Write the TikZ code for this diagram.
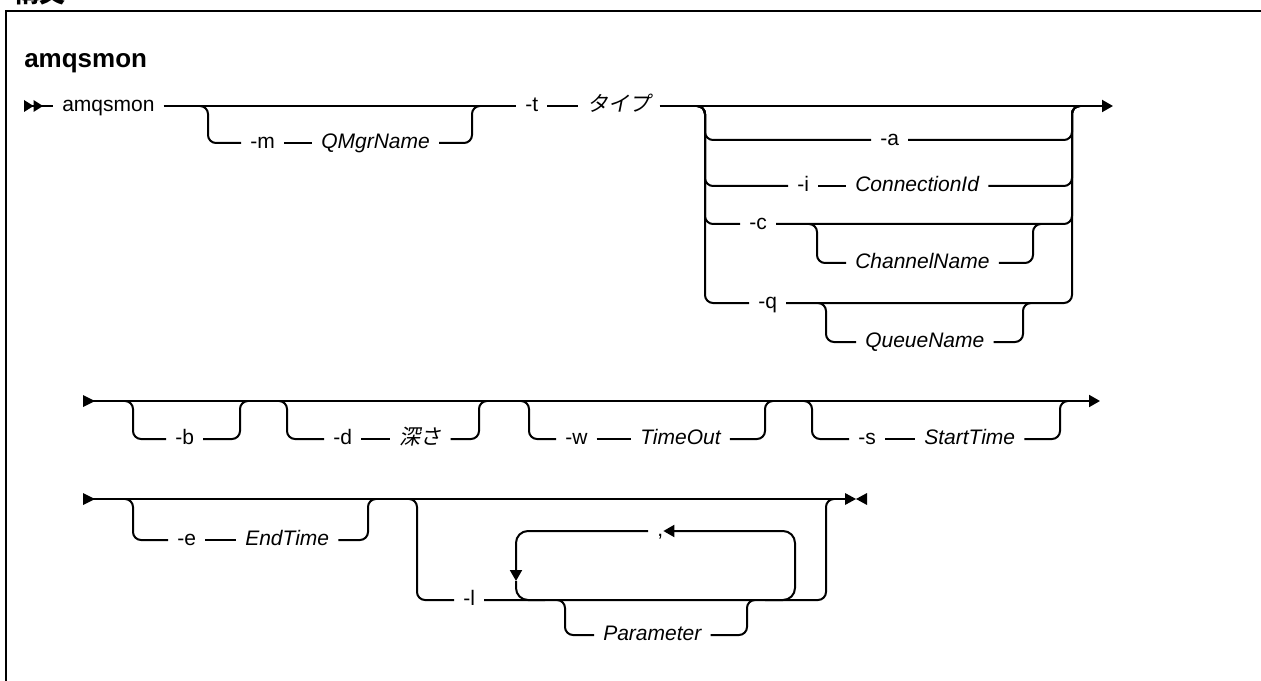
\documentclass[tikz,border=0pt]{standalone}
\usepackage{fontspec}
\setmainfont{Liberation Sans}
\newfontfamily\jp[FakeSlant=0.2]{Noto Sans CJK JP}
\newfontfamily\jpup{Noto Sans CJK JP}
\usetikzlibrary{arrows.meta}
\begin{document}
\begin{tikzpicture}[x=0.75pt,y=-0.75pt,
  ln/.style={line width=1.5pt},
  br/.style={line width=1.5pt, rounded corners=6pt},
  lp/.style={line width=1.5pt, rounded corners=9pt},
  lbl/.style={inner xsep=6.75pt, inner ysep=0pt, text height=8.2pt, text depth=0pt, anchor=west, font=\fontsize{15.75}{18}\selectfont},
  var/.style={lbl, font=\fontsize{15.75}{18}\selectfont\itshape},
  jvar/.style={lbl, font=\fontsize{15.75}{18}\selectfont\jp},
  tip/.style={-{Triangle[length=8.25pt,width=9pt]}},
]
\useasboundingbox (0,0) rectangle (1261,681);
\clip (0,0) rectangle (1261,681);

% frame and headings
\draw[line width=1.9pt] (6,720) -- (6,11) -- (1290,11);
\node[anchor=base west, inner sep=0pt, font=\fontsize{19.5}{22}\selectfont\jpup\bfseries] (hd) at (13,3) {構文};
\node[anchor=base west, inner sep=0pt, font=\fontsize{19.5}{22}\selectfont\bfseries] (title) at (24,68) {amqsmon};

% ---------------- row 1 ----------------
\coordinate (r1s) at (24,106);
\fill (24,100) -- (33.5,106) -- (24,112) -- cycle;
\fill (33.5,100) -- (43,106) -- (33.5,112) -- cycle;
\node[lbl] (amq) at (53,106) {amqsmon};
\draw[ln] (r1s) -- (amq.west);

% -m QMgrName (optional)
\coordinate (mS) at (200,106); \coordinate (mB) at (208,143);
\node[lbl] (m) at (241,143) {-m};
\node[var] (qmn) at (312,143) {QMgrName};
\coordinate (mR) at (472,106); \coordinate (mE) at (480,106);
\draw[br] (mS) -| (mB) -- (m.west);
\draw[ln] (m.east) -- (qmn.west);
\draw[br] (qmn.east) -| (mR) -- (mE);

% -t type
\node[lbl] (t) at (516,106) {-t};
\node[jvar] (typ) at (578,106) {タイプ};
\coordinate (r1e) at (1113,106);
\draw[ln] (amq.east) -- (t.west);
\draw[ln] (t.east) -- (typ.west);
\draw[ln,tip] (typ.east) -- (r1e);

% choice block
\coordinate (cS) at (697,106);
\coordinate (cR) at (1072,106); \coordinate (cE) at (1080,106);
% -a
\coordinate (aB) at (705,140);
\node[lbl] (a) at (871,140) {-a};
\draw[br] (cS) -| (aB) -- (a.west);
\draw[br] (a.east) -| (cR) -- (cE);
% -i ConnectionId
\coordinate (iB) at (705,186);
\node[lbl] (i) at (788,186) {-i};
\node[var] (cid) at (846,186) {ConnectionId};
\draw[br] (cS) -| (iB) -- (i.west);
\draw[ln] (i.east) -- (cid.west);
\draw[br] (cid.east) -| (cR) -- (cE);
% -c [ChannelName]
\coordinate (cB) at (705,224);
\node[lbl] (c) at (740,224) {-c};
\draw[br] (cS) -| (cB) -- (c.west);
\draw[br] (c.east) -| (cR) -- (cE);
\coordinate (chS) at (809,224); \coordinate (chB) at (817,263);
\node[var] (chn) at (846,263) {ChannelName};
\coordinate (chR) at (1033,224); \coordinate (chE) at (1041,224);
\draw[br] (chS) -| (chB) -- (chn.west);
\draw[br] (chn.east) -| (chR) -- (chE);
% -q [QueueName]
\coordinate (qB) at (705,303);
\node[lbl] (q) at (749,303) {-q};
\draw[br] (cS) -| (qB) -- (q.west);
\draw[br] (q.east) -| (cR) -- (cE);
\coordinate (qnS) at (818,303); \coordinate (qnB) at (826,342);
\node[var] (qn) at (856,342) {QueueName};
\coordinate (qnR) at (1023,303); \coordinate (qnE) at (1031,303);
\draw[br] (qnS) -| (qnB) -- (qn.west);
\draw[br] (qn.east) -| (qnR) -- (qnE);

% ---------------- row 2 ----------------
\coordinate (r2s) at (83,401); \coordinate (r2e) at (1100,401);
\fill (83,395) -- (95,401) -- (83,407) -- cycle;
\draw[ln,tip] (r2s) -- (r2e);
% -b
\coordinate (bS) at (125,401); \coordinate (bB) at (133,439);
\node[lbl] (b) at (166,439) {-b};
\coordinate (bR) at (240,401); \coordinate (bE) at (248,401);
\draw[br] (bS) -| (bB) -- (b.west);
\draw[br] (b.east) -| (bR) -- (bE);
% -d depth
\coordinate (dS) at (279,401); \coordinate (dB) at (287,439);
\node[lbl] (d) at (324,439) {-d};
\node[jvar] (dep) at (390,439) {深さ};
\coordinate (dR) at (479,401); \coordinate (dE) at (487,401);
\draw[br] (dS) -| (dB) -- (d.west);
\draw[ln] (d.east) -- (dep.west);
\draw[br] (dep.east) -| (dR) -- (dE);
% -w TimeOut
\coordinate (wS) at (521,401); \coordinate (wB) at (529,439);
\node[lbl] (w) at (556,439) {-w};
\node[var] (to) at (631,439) {TimeOut};
\coordinate (wR) at (765,401); \coordinate (wE) at (773,401);
\draw[br] (wS) -| (wB) -- (w.west);
\draw[ln] (w.east) -- (to.west);
\draw[br] (to.east) -| (wR) -- (wE);
% -s StartTime
\coordinate (sS) at (804,401); \coordinate (sB) at (812,439);
\node[lbl] (s) at (849,439) {-s};
\node[var] (stt) at (915,439) {StartTime};
\coordinate (sR) at (1060,401); \coordinate (sE) at (1068,401);
\draw[br] (sS) -| (sB) -- (s.west);
\draw[ln] (s.east) -- (stt.west);
\draw[br] (stt.east) -| (sR) -- (sE);

% ---------------- row 3 ----------------
\coordinate (r3s) at (83,499); \coordinate (r3e) at (845,499);
\fill (83,493) -- (95,499) -- (83,505) -- cycle;
\draw[ln] (r3s) -- (r3e);
\fill (845,493) -- (856,499) -- (845,505) -- cycle;
\fill (867,493) -- (856,499) -- (867,505) -- cycle;
% -e EndTime
\coordinate (eS) at (125,499); \coordinate (eB) at (133,540);
\node[lbl] (e) at (168,540) {-e};
\node[var] (et) at (236,540) {EndTime};
\coordinate (eR) at (368,499); \coordinate (eE) at (376,499);
\draw[br] (eS) -| (eB) -- (e.west);
\draw[ln] (e.east) -- (et.west);
\draw[br] (et.east) -| (eR) -- (eE);
% -l with repeat loop
\coordinate (lS) at (409,499); \coordinate (lB) at (417,600);
\node[lbl] (l) at (454,600) {-l};
\coordinate (lR) at (826,499); \coordinate (lE) at (834,499);
\draw[br] (lS) -| (lB) -- (l.west);
\draw[br] (l.east) -| (lR) -- (lE);
\node[lbl] (comma) at (648,531) {,};
\coordinate (lpK) at (765,600); \coordinate (lpTR) at (795,531);
\coordinate (lpA) at (516,581); \coordinate (lpJ) at (545,600);
\draw[lp,tip] (lpK) -| (lpTR) -- ([xshift=-6.75pt]comma.east);
\draw[lp,tip] (comma.west) -| (lpA);
\draw[lp] (lpA) |- (lpJ);
% [Parameter]
\coordinate (pS) at (557,600); \coordinate (pB) at (565,635);
\node[var] (par) at (594,635) {Parameter};
\coordinate (pR) at (747,600); \coordinate (pE) at (755,600);
\draw[br] (pS) -| (pB) -- (par.west);
\draw[br] (par.east) -| (pR) -- (pE);
\end{tikzpicture}
\end{document}
